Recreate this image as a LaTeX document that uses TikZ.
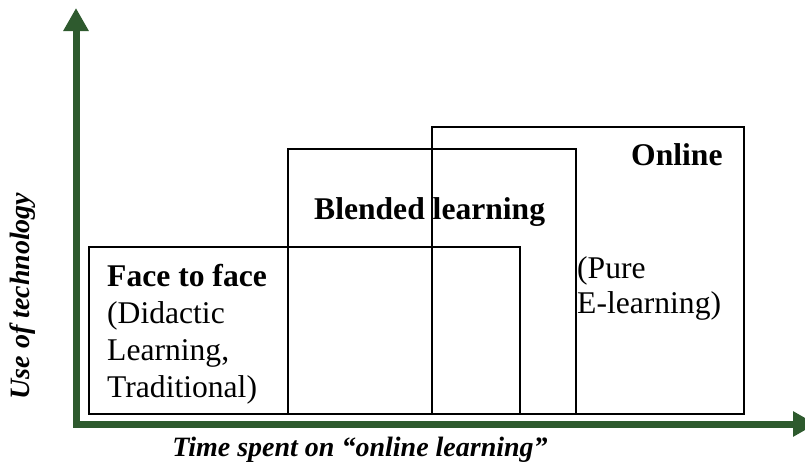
\documentclass[tikz,border=0pt]{standalone}
\usepackage{fontspec}
\setmainfont{Liberation Serif}
\usetikzlibrary{arrows.meta}
\definecolor{axisgreen}{RGB}{46,90,46}
\tikzset{
  box/.style={draw=black, line width=1.5pt, inner sep=0pt, anchor=north west},
  axis/.style={draw=axisgreen, line width=7pt,
    {Triangle[width=24pt,length=23pt]}-{Triangle[width=24pt,length=23pt]}},
  lbl/.style={inner sep=0pt, font=\fontsize{31.6}{37}\selectfont, align=left},
  axlbl/.style={inner sep=0pt, font=\fontsize{28}{32}\selectfont\bfseries\itshape}
}
\begin{document}
\begin{tikzpicture}[x=1pt,y=-1pt]
\useasboundingbox (0,0) rectangle (805,463);
% boxes
\node[box, minimum width=431pt, minimum height=167pt] (f2f) at (88,246) {};
\node[box, minimum width=288pt, minimum height=265pt] (blend) at (287,148) {};
\node[box, minimum width=312pt, minimum height=287pt] (online) at (431,126) {};
% axes
\coordinate (top) at (76,8);
\coordinate (corner) at (76,424);
\coordinate (right) at (816,424);
\draw[axis] (top) -- (corner) -- (right);
% texts
\node[lbl, anchor=north west] (t1) at (107,264) {\textbf{Face to face}\\(Didactic\\Learning,\\Traditional)};
\node[lbl, anchor=base west] (t2) at (314,219) {\textbf{Blended learning}};
\node[lbl, anchor=base west] (t3) at (631,165) {\textbf{Online}};
\node[lbl, anchor=north west, font=\fontsize{31.6}{35}\selectfont] (t4) at (577,256) {(Pure\\E-learning)};
\node[axlbl, rotate=90] (ylab) at (23,296) {Use of technology};
\node[axlbl] (xlab) at (360,450) {Time spent on “online learning”};
\end{tikzpicture}
\end{document}
